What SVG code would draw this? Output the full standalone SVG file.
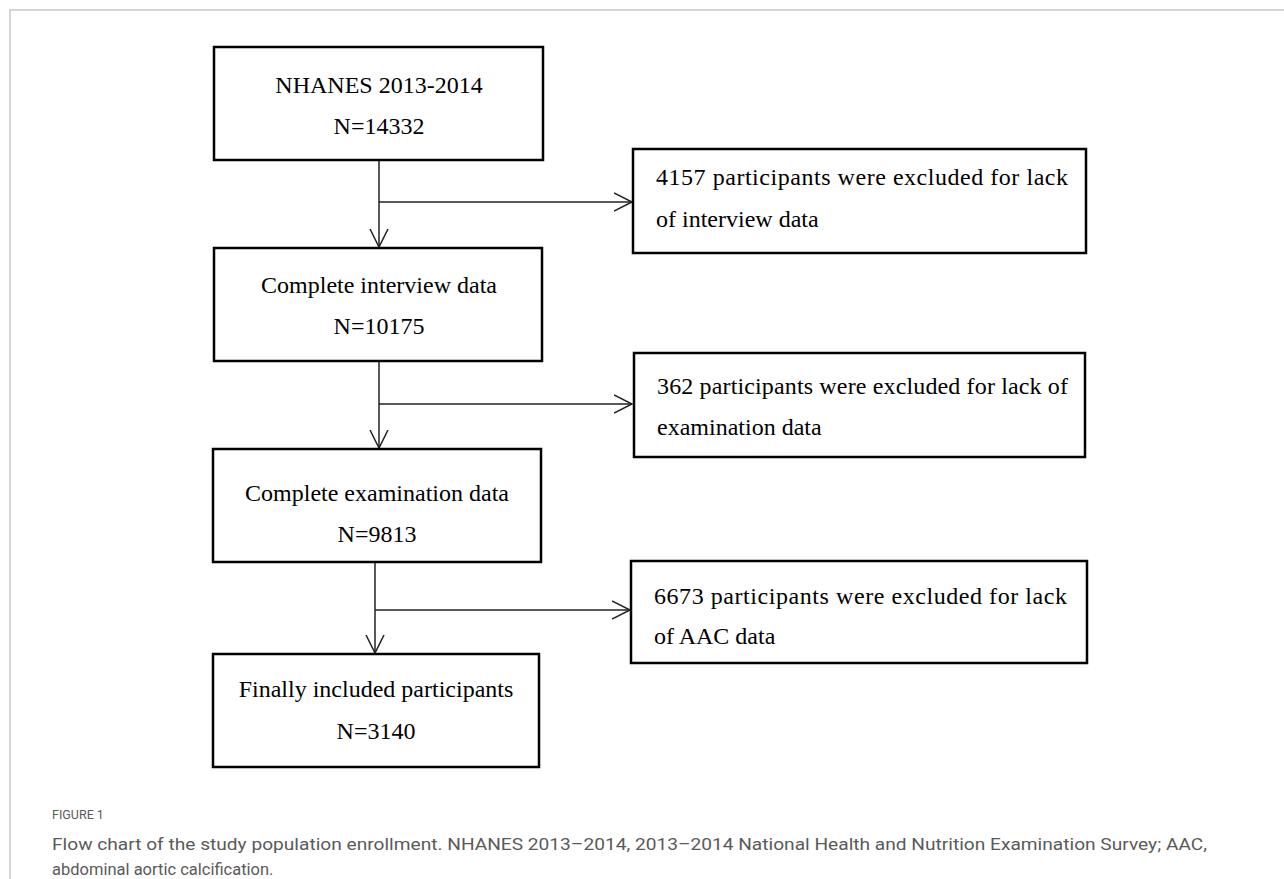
<svg xmlns="http://www.w3.org/2000/svg" width="1284" height="879" viewBox="0 0 1284 879">
<defs>
<style>
.box{fill:#fff;stroke:#000;stroke-width:2.5}
.t{font-family:"Liberation Serif","Times New Roman",serif;font-size:24px;fill:#000}
.c{text-anchor:middle}
.ln{fill:none;stroke:#222;stroke-width:1.5}
.cap{font-family:"Roboto","Liberation Sans",sans-serif;fill:#5a5a5a}
</style>
<marker id="ah" viewBox="0 0 20 20" refX="18" refY="10" markerWidth="20" markerHeight="20" markerUnits="userSpaceOnUse" orient="auto">
<path d="M0,1 L18,10 L0,19" fill="none" stroke="#222" stroke-width="1.5"/>
</marker>
</defs>
<rect width="1284" height="879" fill="#fff"/>
<path d="M10,879 L10,10 L1284,10" fill="none" stroke="#c8c8c8" stroke-width="1.5"/>

<g id="connectors">
<line class="ln" x1="379" y1="160" x2="379" y2="247" marker-end="url(#ah)"/>
<line class="ln" x1="379" y1="202" x2="632" y2="202" marker-end="url(#ah)"/>
<line class="ln" x1="379" y1="361" x2="379" y2="448" marker-end="url(#ah)"/>
<line class="ln" x1="379" y1="404" x2="632" y2="404" marker-end="url(#ah)"/>
<line class="ln" x1="375" y1="562" x2="375" y2="653" marker-end="url(#ah)"/>
<line class="ln" x1="375" y1="610" x2="630" y2="610" marker-end="url(#ah)"/>
</g>

<g id="n1">
<rect class="box" x="214" y="47" width="329" height="113"/>
<text class="t c" x="379" y="93">NHANES 2013-2014</text>
<text class="t c" x="379" y="134">N=14332</text>
</g>
<g id="e1">
<rect class="box" x="633" y="149" width="453" height="104"/>
<text class="t" x="656" y="185" textLength="412" lengthAdjust="spacing">4157 participants were excluded for lack</text>
<text class="t" x="656" y="227">of interview data</text>
</g>
<g id="n2">
<rect class="box" x="214" y="248" width="328" height="113"/>
<text class="t c" x="379" y="293">Complete interview data</text>
<text class="t c" x="379" y="334">N=10175</text>
</g>
<g id="e2">
<rect class="box" x="634" y="353" width="451" height="104"/>
<text class="t" x="657" y="394" textLength="411" lengthAdjust="spacing">362 participants were excluded for lack of</text>
<text class="t" x="657" y="435">examination data</text>
</g>
<g id="n3">
<rect class="box" x="213" y="449" width="328" height="113"/>
<text class="t c" x="377" y="501">Complete examination data</text>
<text class="t c" x="377" y="542">N=9813</text>
</g>
<g id="e3">
<rect class="box" x="631" y="561" width="456" height="102"/>
<text class="t" x="654" y="604" textLength="413" lengthAdjust="spacing">6673 participants were excluded for lack</text>
<text class="t" x="654" y="644">of AAC data</text>
</g>
<g id="n4">
<rect class="box" x="213" y="654" width="326" height="113"/>
<text class="t c" x="376" y="697">Finally included participants</text>
<text class="t c" x="376" y="739">N=3140</text>
</g>

<text class="cap" x="52" y="819" font-size="12.5">FIGURE 1</text>
<text class="cap" x="52" y="850" font-size="16.5" textLength="1155" lengthAdjust="spacingAndGlyphs">Flow chart of the study population enrollment. NHANES 2013–2014, 2013–2014 National Health and Nutrition Examination Survey; AAC,</text>
<text class="cap" x="52" y="875" font-size="16.5">abdominal aortic calcification.</text>
</svg>
